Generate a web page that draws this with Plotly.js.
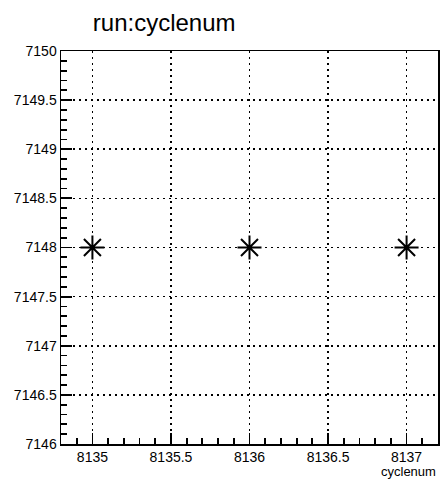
<!DOCTYPE html>
<html>
<head>
<meta charset="utf-8">
<script src="https://cdn.plot.ly/plotly-3.0.1.min.js"></script>
<style>html,body{margin:0;padding:0;background:#fff;}#chart{width:440px;height:482px;}</style>
</head>
<body>
<div id="chart"></div>
<script>
var cyclenum = [8135, 8136, 8137];
var run = [7148, 7148, 7148];
var xRange = [8134.8, 8137.2];
var yRange = [7146, 7150];
var titleText = "run:cyclenum";
var xTitle = "cyclenum";

var font = "Liberation Sans, Arial, sans-serif";
var axisCommon = {
  showline: true, linecolor: "#000", linewidth: 1.5, mirror: true,
  showgrid: true, gridcolor: "#000", griddash: "2px,4px", gridwidth: 1.6,
  zeroline: false,
  ticks: "inside", ticklen: 11, tickwidth: 1.8, tickcolor: "#000",
  dtick: 0.5, tickformat: ".1~f",
  tickfont: {family: font, size: 14, color: "#000"},
  minor: {dtick: 0.1, ticks: "inside", ticklen: 6, tickwidth: 1.8, tickcolor: "#000", showgrid: false}
};

var trace = {
  x: cyclenum, y: run, type: "scatter", mode: "markers",
  marker: {symbol: "asterisk-open", size: 20, color: "#000", line: {color: "#000", width: 2}},
  showlegend: false, hoverinfo: "none"
};

var layout = {
  width: 440, height: 482,
  margin: {l: 61, r: 2, t: 51, b: 38},
  paper_bgcolor: "#fff", plot_bgcolor: "#fff",
  separators: ".,",
  title: {text: titleText, font: {family: font, size: 24, color: "#000"}, xref: "container", yref: "container", x: 0.211, xanchor: "left", y: 0.953, yanchor: "middle", pad: {l: 0, r: 0, t: 0, b: 0}},
  annotations: [{text: xTitle, xref: "paper", yref: "paper", x: 1.0, xanchor: "right", y: 0, yshift: -27, yanchor: "middle", showarrow: false, font: {family: font, size: 13, color: "#000"}}]
};
layout.xaxis = Object.assign({}, axisCommon, {range: xRange, tick0: 8135});
layout.yaxis = Object.assign({}, axisCommon, {range: yRange, tick0: 7146});

Plotly.newPlot("chart", [trace], layout, {displayModeBar: false, staticPlot: true});
</script>
</body>
</html>
